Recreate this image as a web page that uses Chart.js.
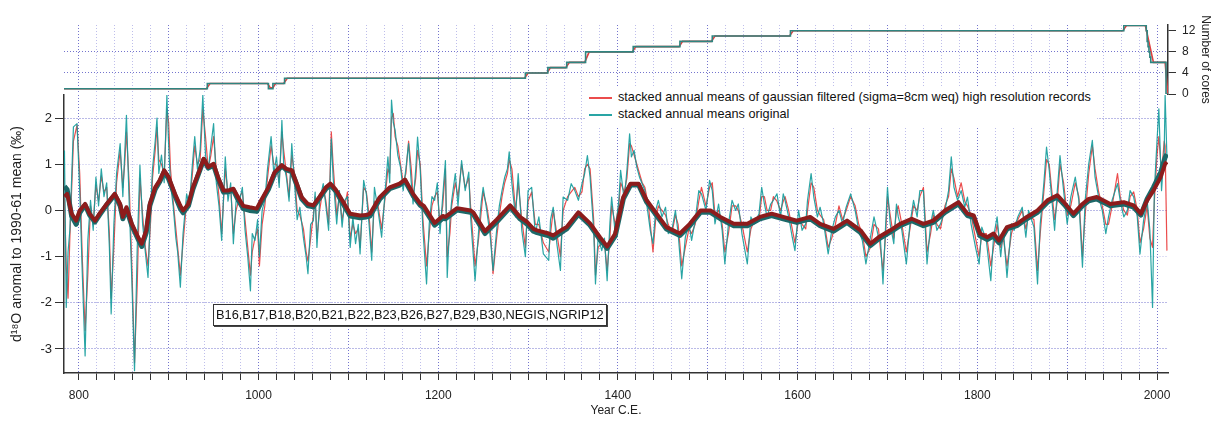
<!DOCTYPE html>
<html>
<head>
<meta charset="utf-8">
<script src="https://cdn.jsdelivr.net/npm/chart.js@4.4.0/dist/chart.umd.min.js"></script>
<style>
  html, body { margin: 0; padding: 0; background: #fff; }
  #wrap { position: relative; width: 1213px; height: 421px; overflow: hidden; font-family: "Liberation Sans", Arial, sans-serif; color: #111; }
  #wrap canvas { position: absolute; left: 0; top: 0; }
  #legend { position: absolute; left: 585px; top: 87px; width: 512px; height: 41px; background: #fff; font-size: 12.7px; padding-top: 2px; box-sizing: border-box; }
  #legend .row { height: 17px; line-height: 17px; white-space: nowrap; }
  #legend .sw { display: inline-block; width: 23px; height: 0; vertical-align: middle; margin: 0 6px 0 4px; }
  #cores { position: absolute; left: 213px; top: 304px; height: 20px; line-height: 20px; padding: 0 2px; font-size: 12.8px; background: #fff; border: 1px solid #333; box-shadow: 1px 1px 0 #444; white-space: nowrap; }
</style>
</head>
<body>
<div id="wrap">
  <canvas id="mainChart" width="1213" height="421"></canvas>
  <canvas id="coreChart" width="1213" height="421"></canvas>
  <div id="legend"></div>
  <div id="cores">B16,B17,B18,B20,B21,B22,B23,B26,B27,B29,B30,NEGIS,NGRIP12</div>
</div>
<script>
// year axis
const xMin = 783.5;
const xMax = 2012.2;
const xLabelYears = [800, 1000, 1200, 1400, 1600, 1800, 2000];
const yTicks = [-3, -2, -1, 0, 1, 2];
const coreTicks = [0, 2, 4, 6, 8, 10, 12];
const coreLabels = [0, 4, 8, 12];

// annual stacks (at turning points)
const years = [784,786,788,790,794,798,801,804,807,810,813,816,819,822,825,828,831,834,836,839,842,846,849,851,853,856,859,862,865,868,871,874,877,880,882,885,887,889,892,895,898,900,902,905,908,910,913,916,920,923,926,929,932,935,938,941,944,947,950,953,956,959,963,966,969,972,975,979,982,985,988,991,993,996,999,1001,1004,1007,1010,1014,1017,1020,1023,1026,1028,1031,1034,1037,1040,1043,1046,1050,1053,1055,1058,1061,1063,1065,1068,1072,1075,1078,1081,1083,1087,1090,1093,1096,1099,1102,1105,1108,1111,1113,1117,1120,1123,1126,1129,1133,1137,1141,1144,1146,1148,1150,1152,1155,1158,1161,1164,1167,1170,1172,1175,1177,1180,1183,1187,1190,1193,1196,1199,1202,1205,1208,1210,1213,1215,1219,1222,1226,1230,1234,1236,1241,1245,1248,1250,1254,1258,1261,1265,1268,1271,1274,1277,1279,1282,1286,1289,1293,1297,1300,1304,1308,1312,1317,1323,1325,1328,1332,1336,1339,1344,1348,1352,1356,1360,1363,1366,1369,1373,1375,1378,1382,1385,1388,1391,1393,1397,1401,1403,1407,1410,1413,1415,1418,1421,1424,1427,1430,1434,1436,1439,1442,1445,1449,1453,1456,1460,1464,1467,1471,1475,1479,1482,1486,1490,1493,1498,1502,1505,1508,1512,1516,1519,1523,1527,1531,1534,1538,1544,1548,1552,1557,1560,1563,1566,1570,1573,1577,1581,1584,1586,1590,1594,1597,1601,1605,1609,1611,1615,1618,1622,1625,1629,1634,1638,1642,1646,1650,1654,1659,1664,1668,1672,1676,1681,1685,1690,1692,1695,1698,1700,1703,1707,1710,1712,1716,1721,1725,1729,1733,1736,1740,1744,1748,1751,1755,1759,1764,1768,1771,1774,1778,1782,1786,1789,1793,1798,1802,1805,1810,1815,1818,1822,1826,1829,1833,1838,1841,1845,1850,1854,1857,1863,1867,1870,1874,1877,1880,1883,1886,1889,1892,1896,1900,1904,1909,1913,1917,1920,1924,1928,1931,1935,1939,1943,1946,1950,1956,1959,1963,1967,1970,1974,1978,1981,1985,1989,1992,1995,1997,2000,2002,2005,2008,2009,2011];
const origValues = [1.30,-2.10,-0.90,-0.43,1.81,1.88,0.43,-1.45,-3.15,-0.65,0.22,-0.43,0.72,0.10,0.90,0.30,0.60,-0.80,-2.24,-0.30,0.80,1.45,0.30,1.20,2.06,0.20,-1.50,-3.47,-0.80,0.98,-0.30,-0.90,-1.45,0.10,0.90,1.50,2.00,0.80,1.20,0.60,2.50,1.40,0.58,0.10,-0.60,-0.90,-1.66,-0.50,0.36,0.10,0.90,1.60,0.90,1.30,2.50,1.20,0.87,1.40,1.88,0.60,0.10,-0.65,1.16,0.20,0.60,-0.72,0.20,0.22,0.50,-0.43,-1.00,-1.74,-0.50,-0.65,-0.20,-1.00,0.00,0.22,0.90,1.60,0.80,1.16,0.50,1.95,1.00,0.72,0.20,1.45,0.60,-0.20,0.07,-0.60,-1.00,-1.37,-0.30,-0.22,0.40,-0.80,0.20,0.58,0.10,-0.43,1.55,0.72,-0.29,0.43,-0.36,0.22,0.30,-0.80,-0.14,-0.72,-0.30,-0.94,0.65,0.36,-0.30,-1.08,0.50,0.00,-0.58,0.43,1.16,0.60,2.39,1.90,1.74,1.20,0.94,0.43,0.90,1.45,0.60,0.14,0.90,1.59,0.87,-0.43,-1.59,-0.29,0.30,0.22,0.60,-0.50,0.30,1.08,-1.45,-0.20,0.22,0.80,0.10,1.08,0.43,0.83,-0.14,-1.52,-0.43,0.20,0.50,0.00,-0.58,-1.30,-0.43,0.10,0.43,0.72,0.90,1.27,0.58,-0.14,0.80,-0.43,-1.00,0.43,0.50,-0.50,-0.14,-0.94,-1.08,-0.20,0.07,-0.72,-1.30,0.29,0.22,0.58,0.43,0.22,0.58,0.80,1.19,0.72,-0.43,-1.59,-0.58,-0.87,-0.60,-1.52,-0.30,0.29,-0.50,0.22,0.87,0.22,0.87,1.66,1.16,1.30,0.94,0.72,0.58,0.43,-0.14,-0.43,-0.72,0.00,0.22,-0.14,0.07,-0.50,-0.43,0.00,-0.50,-1.48,-0.58,-0.29,-0.65,-0.22,0.43,0.36,0.00,0.65,0.43,-0.29,0.14,-0.43,-1.16,-0.29,0.22,0.00,0.14,-0.50,-1.16,-0.14,-0.29,-0.07,0.50,0.14,-0.14,0.14,0.22,0.36,-0.14,0.36,0.22,-0.14,-0.58,-0.87,0.00,-0.43,-0.29,0.22,0.80,0.29,-0.14,0.07,-0.29,-0.94,-0.43,-0.14,0.00,-0.29,0.07,0.36,0.00,-0.43,-0.65,-1.16,-0.58,-0.14,-0.58,-0.58,-1.59,-0.29,0.50,-0.29,-0.72,0.14,-0.14,-0.43,-1.16,-0.29,0.22,-0.14,0.43,0.43,-1.16,-0.29,0.00,-0.43,-0.29,0.00,0.43,1.16,0.50,0.22,0.43,0.07,0.29,-0.29,-0.80,-1.16,-0.36,-0.65,-1.52,-0.58,-0.14,-1.00,-0.43,-1.45,-0.29,-0.43,-0.14,0.07,-0.58,0.00,-0.36,-1.59,-0.29,0.58,1.37,0.87,0.22,-0.43,0.43,1.19,0.43,-0.29,0.29,0.72,0.22,-1.23,0.22,1.01,1.52,0.72,0.29,0.00,-0.50,-0.14,0.22,0.58,0.22,-0.14,0.00,0.43,0.29,-0.14,-0.94,-0.22,0.22,-0.43,-2.10,0.43,1.52,2.20,0.43,1.30,2.50,1.16];
const filtValues = [0.30,-1.20,-1.90,-0.60,1.50,1.85,0.80,-1.10,-2.60,-1.40,0.10,-0.30,0.55,0.20,0.75,0.40,0.50,-0.50,-1.90,-0.80,0.60,1.30,0.50,1.00,1.70,0.60,-1.20,-3.30,-1.60,0.70,-0.10,-0.80,-1.20,-0.20,0.70,1.30,1.80,1.10,1.00,0.80,2.20,1.90,0.90,0.20,-0.40,-0.80,-1.40,-0.70,0.20,0.20,0.70,1.40,1.00,1.10,2.20,1.60,0.90,1.20,1.60,0.90,0.30,-0.50,0.90,0.40,0.50,-0.50,0.00,0.30,0.40,-0.20,-0.80,-1.40,-0.90,-0.60,-0.40,-1.20,-0.30,0.10,0.70,1.40,1.00,1.00,0.60,1.70,1.30,0.80,0.30,1.20,0.80,0.00,-0.10,-0.40,-0.90,-1.10,-0.60,-0.10,0.30,-0.60,0.00,0.50,0.20,-0.30,1.70,1.00,-0.10,0.30,-0.20,0.10,0.40,-0.60,-0.30,-0.50,-0.40,-0.80,0.50,0.40,-0.10,-0.90,0.20,0.10,-0.40,0.30,0.90,0.80,2.00,2.10,1.60,1.40,1.00,0.60,0.80,1.50,0.90,0.30,0.70,1.30,1.00,-0.20,-1.20,-0.50,0.10,0.30,0.40,-0.30,0.10,0.90,-1.00,-0.50,0.10,0.60,0.30,1.00,0.50,0.70,0.10,-1.20,-0.60,0.00,0.40,0.10,-0.40,-1.37,-0.60,-0.10,0.30,0.60,0.80,1.10,0.90,0.00,0.60,-0.20,-0.80,0.20,0.40,-0.30,-0.30,-0.70,-0.90,-0.50,0.00,-0.50,-1.00,0.00,0.30,0.40,0.50,0.30,0.40,0.90,1.00,0.90,-0.20,-1.40,-0.80,-0.70,-0.70,-1.30,-0.60,0.10,-0.30,0.10,0.60,0.40,0.70,1.45,1.40,1.20,1.00,0.80,0.60,0.50,0.10,-0.30,-0.90,-0.20,0.10,0.00,-0.10,-0.30,-0.50,-0.10,-0.30,-1.20,-0.80,-0.40,-0.50,-0.30,0.20,0.50,0.10,0.50,0.60,-0.10,0.00,-0.30,-0.90,-0.50,0.10,0.10,0.00,-0.30,-0.90,-0.40,-0.20,-0.20,0.30,0.30,0.00,0.00,0.30,0.20,0.00,0.20,0.30,0.00,-0.40,-0.70,-0.20,-0.30,-0.40,0.00,0.60,0.50,0.00,-0.10,-0.20,-0.80,-0.60,-0.30,0.10,-0.20,0.00,0.30,0.10,-0.30,-0.50,-1.00,-0.80,-0.30,-0.40,-0.80,-1.30,-0.50,0.30,-0.10,-0.60,0.00,0.10,-0.30,-0.90,-0.40,0.10,0.00,0.30,0.50,-0.90,-0.50,-0.10,-0.30,-0.40,0.10,0.30,0.90,0.70,0.30,0.60,0.20,0.10,-0.10,-0.60,-1.00,-0.50,-0.50,-1.20,-0.80,-0.30,-0.80,-0.60,-1.20,-0.50,-0.30,-0.20,0.00,-0.40,-0.10,-0.20,-1.30,-0.50,0.40,1.10,1.00,0.40,-0.20,0.20,1.00,0.60,-0.10,0.10,0.60,0.30,-1.00,-0.10,0.80,1.40,0.90,0.40,0.10,-0.30,-0.30,0.10,0.80,0.30,0.00,-0.10,0.30,0.40,0.00,-0.70,-0.40,0.10,-0.60,-0.80,0.20,1.20,1.60,0.80,1.50,1.40,-0.87];

// smoothed curves (thick lines)
const smoothYears = [784,787,792,797,801,807,812,818,823,831,840,846,849,853,859,866,870,875,879,885,890,895,900,907,913,916,922,927,933,939,944,950,955,961,966,972,977,983,990,998,1003,1011,1018,1026,1031,1037,1042,1048,1055,1061,1068,1075,1080,1086,1091,1102,1113,1120,1124,1135,1146,1157,1163,1172,1180,1184,1196,1205,1208,1221,1236,1239,1252,1265,1280,1291,1299,1306,1310,1323,1328,1339,1343,1356,1369,1380,1388,1397,1406,1414,1423,1432,1443,1454,1469,1480,1492,1503,1514,1529,1544,1558,1571,1584,1599,1614,1625,1640,1655,1670,1681,1690,1703,1714,1727,1740,1751,1764,1779,1789,1796,1803,1811,1818,1824,1833,1844,1855,1867,1878,1889,1898,1907,1917,1924,1933,1948,1963,1974,1982,1989,1996,2004,2009,2011];
const smoothFilt = [0.30,0.36,-0.07,-0.22,0.00,0.14,-0.07,-0.22,-0.07,0.14,0.36,0.14,-0.14,0.07,-0.29,-0.58,-0.72,-0.43,0.14,0.50,0.65,0.87,0.72,0.36,0.10,0.00,0.14,0.50,0.80,1.12,0.94,1.01,0.72,0.43,0.43,0.47,0.29,0.10,0.07,0.04,0.22,0.50,0.83,0.98,0.90,0.87,0.61,0.29,0.14,0.11,0.30,0.50,0.58,0.45,0.29,-0.07,-0.11,-0.10,-0.07,0.29,0.50,0.58,0.67,0.36,0.15,0.10,-0.27,-0.12,-0.14,0.05,0.00,-0.04,-0.45,-0.20,0.11,-0.14,-0.25,-0.40,-0.43,-0.50,-0.54,-0.40,-0.36,-0.04,-0.28,-0.58,-0.78,-0.50,0.29,0.58,0.58,0.22,-0.07,-0.36,-0.50,-0.29,0.00,0.00,-0.14,-0.29,-0.29,-0.14,-0.07,-0.14,-0.22,-0.14,-0.29,-0.40,-0.22,-0.43,-0.72,-0.58,-0.43,-0.29,-0.18,-0.29,-0.22,0.00,0.18,-0.07,-0.11,-0.50,-0.58,-0.50,-0.65,-0.36,-0.29,-0.14,0.00,0.22,0.33,0.14,-0.07,0.14,0.25,0.29,0.14,0.18,0.11,-0.07,0.22,0.43,0.72,1.01,1.05];
const smoothOrig = [0.52,0.45,-0.12,-0.30,-0.05,0.12,-0.10,-0.25,-0.10,0.12,0.34,0.10,-0.18,0.03,-0.33,-0.62,-0.78,-0.48,0.10,0.46,0.62,0.84,0.68,0.32,0.04,-0.05,0.10,0.46,0.78,1.10,0.92,0.98,0.68,0.40,0.40,0.44,0.24,0.04,0.00,-0.02,0.18,0.46,0.80,0.96,0.88,0.84,0.58,0.25,0.10,0.08,0.27,0.47,0.55,0.42,0.25,-0.12,-0.16,-0.14,-0.12,0.25,0.47,0.55,0.64,0.32,0.11,0.05,-0.32,-0.17,-0.18,0.01,-0.04,-0.08,-0.50,-0.25,0.07,-0.18,-0.30,-0.45,-0.48,-0.55,-0.60,-0.45,-0.40,-0.08,-0.32,-0.63,-0.82,-0.55,0.25,0.55,0.55,0.18,-0.11,-0.40,-0.54,-0.33,-0.04,-0.04,-0.18,-0.33,-0.33,-0.18,-0.11,-0.18,-0.26,-0.18,-0.33,-0.45,-0.26,-0.48,-0.76,-0.62,-0.47,-0.33,-0.22,-0.33,-0.26,-0.04,0.14,-0.11,-0.15,-0.55,-0.63,-0.55,-0.70,-0.40,-0.33,-0.18,-0.04,0.18,0.29,0.10,-0.11,0.10,0.21,0.25,0.10,0.14,0.07,-0.10,0.25,0.50,0.82,1.15,1.22];

// number of cores in the stack
const coreYears = [783.5,943,1011,1016,1029,1297,1322,1343,1364,1417,1469,1505,1592,1963,1988,1989,1990,1991,1992,1993,2010,2012];
const coreCounts = [1,2,1,2,3,4,5,6,8,9,10,11,12,13,12,10,9,8,7,6,0,0];
const coreFiltYears = [783.5,942,946,1010,1013,1016,1019,1028,1032,1296,1300,1321,1325,1342,1346,1363,1368,1416,1420,1468,1472,1504,1508,1591,1595,1962,1966,1987,1996,2009,2012];
const coreFiltCounts = [1,1,2,2,1.2,1.2,2,2,3,3,4,4,5,5,6,6,8,8,9,9,10,10,11,11,12,12,13,13,6,6,0];

function pairs(xs, ys) {
    return xs.map(function(x, i) { return { x: x, y: ys[i] }; });
}

var majorGrid = 'rgba(70,70,190,0.75)';
var minorGrid = 'rgba(110,110,210,0.45)';
function xGridColor(ctx) {
    if (!ctx.tick) return 'rgba(0,0,0,0)';
    return ctx.tick.value % 100 === 0 ? majorGrid : minorGrid;
}
var xTickList = [];
for (var t = 800; t <= 2000; t += 20) xTickList.push({ value: t });

Chart.defaults.font.family = '"Liberation Sans", Arial, sans-serif';
Chart.defaults.color = '#222';

var mainChart = new Chart(document.getElementById('mainChart'), {
    type: 'line',
    data: {
        datasets: [{
            label: 'smoothed filtered',
            data: pairs(smoothYears, smoothFilt),
            borderColor: '#8d1c1c',
            borderWidth: 4,
            order: 0
        }, {
            label: 'smoothed original',
            data: pairs(smoothYears, smoothOrig),
            borderColor: '#1c6868',
            borderWidth: 5,
            order: 1
        }, {
            label: 'stacked annual means original',
            data: pairs(years, origValues),
            borderColor: 'rgba(18,155,155,0.9)',
            borderWidth: 1.2,
            order: 2,
            legendRank: 2
        }, {
            label: 'stacked annual means of gaussian filtered (sigma=8cm weq) high resolution records',
            data: pairs(years, filtValues),
            borderColor: 'rgba(232,45,45,0.85)',
            borderWidth: 1.2,
            order: 3,
            legendRank: 1
        }]
    },
    options: {
        responsive: false,
        animation: false,
        layout: { padding: { top: 95, right: 45, left: 0, bottom: 0 } },
        elements: { point: { radius: 0 }, line: { tension: 0, borderJoinStyle: 'round' } },
        plugins: { legend: { display: false }, tooltip: { enabled: false } },
        scales: {
            x: {
                type: 'linear',
                min: xMin,
                max: xMax,
                afterBuildTicks: function(axis) { axis.ticks = xTickList.slice(); },
                afterFit: function(scale) { scale.height = 48; },
                ticks: {
                    autoSkip: false,
                    maxRotation: 0,
                    padding: 8,
                    font: { size: 12 },
                    callback: function(v) { return xLabelYears.indexOf(v) >= 0 ? String(v) : ''; }
                },
                grid: { color: xGridColor, tickColor: '#333', tickLength: 7, tickWidth: 1 },
                border: { color: '#333', width: 1.5, dash: [1, 2] },
                title: { display: true, text: 'Year C.E.', font: { size: 12 }, padding: { bottom: 3, top: 0 } }
            },
            y: {
                min: -3.52,
                max: 2.5,
                afterBuildTicks: function(axis) { axis.ticks = yTicks.map(function(v) { return { value: v }; }); },
                afterFit: function(scale) { scale.width = 64; },
                ticks: { padding: 3, font: { size: 13 }, callback: function(v) { return String(v); } },
                grid: {
                    color: function(ctx) { return ctx.tick && Math.abs(ctx.tick.value) === 1 ? minorGrid : majorGrid; },
                    tickColor: '#333', tickLength: 9
                },
                border: { color: '#333', width: 1.5, dash: [1, 2] },
                title: { display: true, text: 'd¹⁸O anomal to 1990-61 mean (‰)', font: { size: 14 }, padding: { top: 9, bottom: 0 } }
            }
        }
    }
});

var coreChart = new Chart(document.getElementById('coreChart'), {
    type: 'line',
    data: {
        datasets: [{
            label: 'cores original',
            data: pairs(coreYears, coreCounts),
            borderColor: '#2f8580',
            borderWidth: 1.6,
            stepped: 'before',
            order: 0
        }, {
            label: 'cores filtered',
            data: pairs(coreFiltYears, coreFiltCounts),
            borderColor: '#e04040',
            borderWidth: 1.6,
            order: 1
        }]
    },
    options: {
        responsive: false,
        animation: false,
        layout: { padding: { top: 25, left: 64, right: 0, bottom: 0 } },
        elements: { point: { radius: 0 }, line: { tension: 0 } },
        plugins: { legend: { display: false }, tooltip: { enabled: false } },
        scales: {
            x: {
                type: 'linear',
                min: xMin,
                max: xMax,
                afterBuildTicks: function(axis) { axis.ticks = xTickList.slice(); },
                afterFit: function(scale) { scale.height = 327; },
                ticks: { display: false },
                grid: { color: xGridColor, drawTicks: false },
                border: { display: false, dash: [1, 2] }
            },
            y: {
                position: 'right',
                min: 0,
                max: 13.1,
                afterBuildTicks: function(axis) { axis.ticks = coreTicks.map(function(v) { return { value: v }; }); },
                afterFit: function(scale) { scale.width = 45; },
                ticks: {
                    padding: 6,
                    font: { size: 12 },
                    callback: function(v) { return coreLabels.indexOf(v) >= 0 ? String(v) : ''; }
                },
                grid: {
                    color: function(ctx) {
                        if (!ctx.tick) return 'rgba(0,0,0,0)';
                        var v = ctx.tick.value;
                        if (v === 0 || v === 12) return 'rgba(0,0,0,0)';
                        return (v === 4 || v === 8) ? majorGrid : minorGrid;
                    },
                    tickColor: '#333', tickLength: 8
                },
                border: { color: '#333', width: 1.5, dash: [1, 2] },
                title: { display: true, text: 'Number of cores', font: { size: 12 }, padding: { top: 0, bottom: 0 } }
            }
        }
    }
});

// legend built from the chart's own datasets
var legendEl = document.getElementById('legend');
mainChart.data.datasets
    .filter(function(d) { return d.legendRank; })
    .sort(function(a, b) { return a.legendRank - b.legendRank; })
    .forEach(function(d) {
        var row = document.createElement('div');
        row.className = 'row';
        var sw = document.createElement('span');
        sw.className = 'sw';
        sw.style.borderTop = '2px solid ' + d.borderColor;
        row.appendChild(sw);
        row.appendChild(document.createTextNode(d.label));
        legendEl.appendChild(row);
    });
</script>
</body>
</html>
